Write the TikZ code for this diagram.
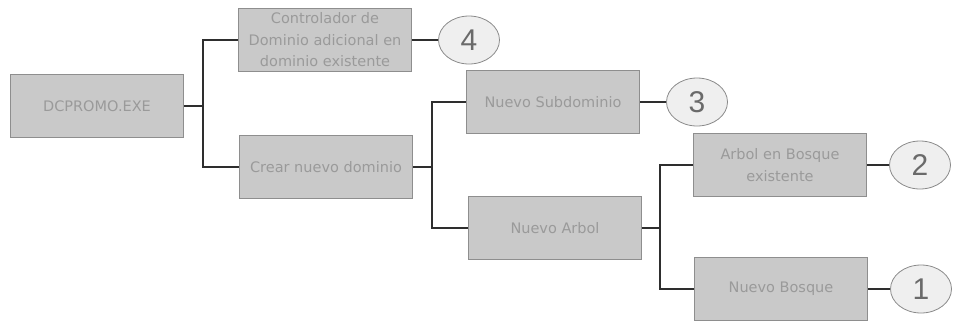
\documentclass[tikz,border=0pt]{standalone}
\usepackage{fontspec}
\setmainfont{DejaVu Sans}
\newfontfamily\numfont{Liberation Sans}
\usetikzlibrary{shapes.geometric}
\definecolor{boxfill}{HTML}{C9C9C9}
\definecolor{boxedge}{HTML}{8E8E8E}
\definecolor{boxtext}{HTML}{9A9A9A}
\definecolor{linkcol}{HTML}{2E2E2E}
\definecolor{ovalfill}{HTML}{EFEFEF}
\definecolor{ovaledge}{HTML}{8A8A8A}
\definecolor{ovaltext}{HTML}{6A6A6A}
\tikzset{
  optbox/.style={rectangle, fill=boxfill, draw=boxedge, line width=1.2pt,
    minimum width=173pt, minimum height=63pt, align=center,
    text=boxtext, font=\fontsize{14.5}{21.5}\selectfont, inner sep=1pt},
  numoval/.style={ellipse, fill=ovalfill, draw=ovaledge, line width=0.8pt,
    minimum width=61pt, minimum height=48pt, inner sep=0pt,
    text=ovaltext, font=\numfont\fontsize{30}{32}\selectfont},
  link/.style={draw=linkcol, line width=2.8pt}
}
\begin{document}
\begin{tikzpicture}[x=1pt,y=-1pt]
\useasboundingbox (0,0) rectangle (953,322);
% option boxes
\node[optbox] (dc)   at (97,106)  {DCPROMO.EXE};
\node[optbox] (ctrl) at (325,40)  {Controlador de\\Dominio adicional en\\dominio existente};
\node[optbox] (crear) at (326,167) {Crear nuevo dominio};
\node[optbox] (sub)  at (553,102) {Nuevo Subdominio};
\node[optbox] (arbol) at (555,228) {Nuevo Arbol};
\node[optbox] (enbos) at (780,165) {Arbol en Bosque\\existente};
\node[optbox] (bosque) at (781,289) {Nuevo Bosque};
% numbered outcomes
\node[numoval] (n4) at (469,40)  {4};
\node[numoval] (n3) at (697,102) {3};
\node[numoval] (n2) at (920,165) {2};
\node[numoval] (n1) at (921,289) {1};
% branch points
\coordinate (j1) at (203,106);
\coordinate (j2) at (432,167);
\coordinate (j3) at (660,228);
% tree connectors
\draw[link] (dc.east) -- (j1);
\draw[link] (ctrl.west) -| (j1) |- (crear.west);
\draw[link] (crear.east) -- (j2);
\draw[link] (sub.west) -| (j2) |- (arbol.west);
\draw[link] (arbol.east) -- (j3);
\draw[link] (enbos.west) -| (j3) |- (bosque.west);
% links to outcomes
\draw[link] (ctrl.east) -- (n4.west);
\draw[link] (sub.east) -- (n3.west);
\draw[link] (enbos.east) -- (n2.west);
\draw[link] (bosque.east) -- (n1.west);
\end{tikzpicture}
\end{document}
